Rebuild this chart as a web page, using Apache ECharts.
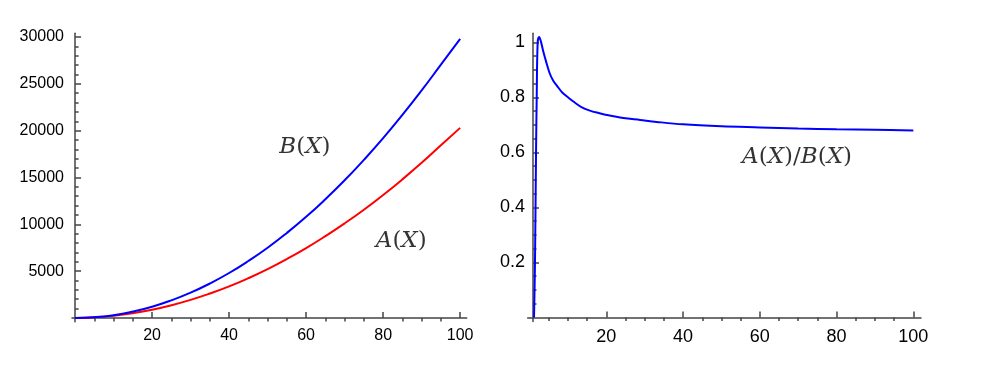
<!DOCTYPE html>
<html>
<head>
<meta charset="utf-8">
<script src="https://cdn.jsdelivr.net/npm/echarts@6/dist/echarts.min.js"></script>
<style>
  html, body { margin: 0; padding: 0; background: #fff; }
  #chart { width: 992px; height: 365px; }
</style>
</head>
<body>
<div id="chart"></div>
<script>
// left panel: A(X) and B(X)
const xs = [0, 5, 10, 15, 20, 25, 30, 35, 40, 45, 50, 55, 60, 65, 70, 75, 80, 85, 90, 95, 100];
const bVals = [0, 80, 300, 680, 1200, 1880, 2700, 3680, 4800, 6080, 7500, 9080, 10800, 12680, 14700, 16880, 19200, 21680, 24300, 27050, 29800];
const aVals = [0, 65, 240, 513, 883, 1357, 1930, 2605, 3370, 4245, 5215, 6290, 7460, 8735, 10100, 11560, 13130, 14800, 16570, 18440, 20300];

// right panel: A(X)/B(X)
const rx = [1.15, 1.4, 1.67, 1.85, 2.1, 2.5, 3.0, 3.6, 4.3, 5.3, 6.2, 7.1, 8.5, 10.3, 11.4, 13.5, 15.7, 18, 20.1, 24.4, 28.8, 33.1, 40, 50, 60, 70, 80, 90, 100];
const ratio = [0, 0.2, 0.6, 0.8, 1.0, 1.02, 1.0, 0.965, 0.93, 0.885, 0.86, 0.843, 0.818, 0.797, 0.785, 0.765, 0.752, 0.743, 0.736, 0.725, 0.718, 0.711, 0.702, 0.695, 0.691, 0.687, 0.684, 0.682, 0.680];

// tick labels
const xMajor = [20, 40, 60, 80, 100];
const xMinor = [5, 10, 15, 25, 30, 35, 45, 50, 55, 65, 70, 75, 85, 90, 95];
const yLeftMajor = [5000, 10000, 15000, 20000, 25000, 30000];
const yLeftMinor = [1000, 2000, 3000, 4000, 6000, 7000, 8000, 9000, 11000, 12000, 13000, 14000,
  16000, 17000, 18000, 19000, 21000, 22000, 23000, 24000, 26000, 27000, 28000, 29000];
const yRightMajor = [0.2, 0.4, 0.6, 0.8, 1];
const yRightMinor = [0.05, 0.1, 0.15, 0.25, 0.3, 0.35, 0.45, 0.5, 0.55, 0.65, 0.7, 0.75, 0.85, 0.9, 0.95];

// curve names placed in data coordinates
const leftNotes = [[59.7, 18230, 'B'], [84.7, 8210, 'A']];
const rightNotes = [[69.7, 0.584, 'AB']];

const axisColor = '#444';
const lineStyle = { color: axisColor, width: 1.5 };
const plain = v => String(v);

function mainX(grid, min, max, size) {
  return {
    type: 'value', gridIndex: grid, min: min, max: max,
    axisLine: { onZero: true, lineStyle: lineStyle },
    axisTick: { inside: true, length: 6, customValues: xMajor, lineStyle: lineStyle },
    axisLabel: { customValues: xMajor, formatter: plain, color: '#000', fontSize: size, margin: 6, fontFamily: 'Liberation Sans' },
    splitLine: { show: false }
  };
}
function minorX(grid, min, max) {
  return {
    type: 'value', gridIndex: grid, min: min, max: max,
    axisLine: { show: false, onZero: true },
    axisTick: { inside: true, length: 3.5, customValues: xMinor, lineStyle: lineStyle },
    axisLabel: { show: false },
    splitLine: { show: false }
  };
}

const chart = echarts.init(document.getElementById('chart'));

const mathRich = {
  i: { fontFamily: 'DejaVu Serif', fontStyle: 'italic', fontSize: 23, color: '#000' },
  r: { fontFamily: 'DejaVu Serif', fontSize: 23, color: '#000' }
};
function noteText(k) {
  if (k === 'AB') return '{i|A}{r|(}{i|X}{r|)/}{i|B}{r|(}{i|X}{r|)}';
  return '{i|' + k + '}{r|(}{i|X}{r|)}';
}
const noteLabel = {
  show: true, position: 'inside', rich: mathRich,
  formatter: p => noteText(p.data[2])
};

chart.setOption({
  animation: false,
  grid: [
    { left: 72, top: 33.3, width: 394.7, height: 288.4, outerBoundsMode: 'none' },
    { left: 527.7, top: 33.3, width: 393.3, height: 288.3, outerBoundsMode: 'none' }
  ],
  xAxis: [
    mainX(0, -0.8, 101.7, 16),
    minorX(0, -0.8, 101.7),
    mainX(1, -0.5, 102, 18),
    minorX(1, -0.5, 102)
  ],
  yAxis: [
    {
      type: 'value', gridIndex: 0, min: -400, max: 30400, position: 'left',
      axisLine: { onZero: true, lineStyle: lineStyle },
      axisTick: { inside: true, length: 6, customValues: yLeftMajor, lineStyle: lineStyle },
      axisLabel: { customValues: yLeftMajor, formatter: plain, color: '#000', fontSize: 16, margin: 8, fontFamily: 'Liberation Sans' },
      splitLine: { show: false }
    },
    {
      type: 'value', gridIndex: 0, min: -400, max: 30400, position: 'left',
      axisLine: { show: false, onZero: true },
      axisTick: { inside: true, length: 3.5, customValues: yLeftMinor, lineStyle: lineStyle },
      axisLabel: { show: false },
      splitLine: { show: false }
    },
    {
      type: 'value', gridIndex: 1, min: -0.015, max: 1.033, position: 'left', offset: -5.3,
      axisLine: { onZero: false, lineStyle: lineStyle },
      axisTick: { inside: true, length: 6, customValues: yRightMajor, lineStyle: lineStyle },
      axisLabel: { customValues: yRightMajor, formatter: plain, color: '#000', fontSize: 18, margin: 8, fontFamily: 'Liberation Sans' },
      splitLine: { show: false }
    },
    {
      type: 'value', gridIndex: 1, min: -0.015, max: 1.033, position: 'left', offset: -5.3,
      axisLine: { show: false, onZero: false },
      axisTick: { inside: true, length: 3.5, customValues: yRightMinor, lineStyle: lineStyle },
      axisLabel: { show: false },
      splitLine: { show: false }
    }
  ],
  series: [
    {
      name: 'A', type: 'line', xAxisIndex: 0, yAxisIndex: 0,
      data: xs.map((x, i) => [x, aVals[i]]),
      showSymbol: false, smooth: true,
      lineStyle: { color: '#ff0000', width: 2 }, itemStyle: { color: '#ff0000' }
    },
    {
      name: 'B', type: 'line', xAxisIndex: 0, yAxisIndex: 0,
      data: xs.map((x, i) => [x, bVals[i]]),
      showSymbol: false, smooth: true,
      lineStyle: { color: '#0000ff', width: 2 }, itemStyle: { color: '#0000ff' }
    },
    {
      name: 'ratio', type: 'line', xAxisIndex: 2, yAxisIndex: 2,
      data: rx.map((x, i) => [x, ratio[i]]),
      showSymbol: false, smooth: 0.35,
      lineStyle: { color: '#0000ff', width: 2 }, itemStyle: { color: '#0000ff' }
    },
    {
      type: 'scatter', xAxisIndex: 0, yAxisIndex: 0, symbolSize: 1,
      itemStyle: { color: 'rgba(0,0,0,0)' },
      data: leftNotes, label: noteLabel, silent: true
    },
    {
      type: 'scatter', xAxisIndex: 2, yAxisIndex: 2, symbolSize: 1,
      itemStyle: { color: 'rgba(0,0,0,0)' },
      data: rightNotes, label: noteLabel, silent: true
    }
  ]
});
</script>
</body>
</html>
